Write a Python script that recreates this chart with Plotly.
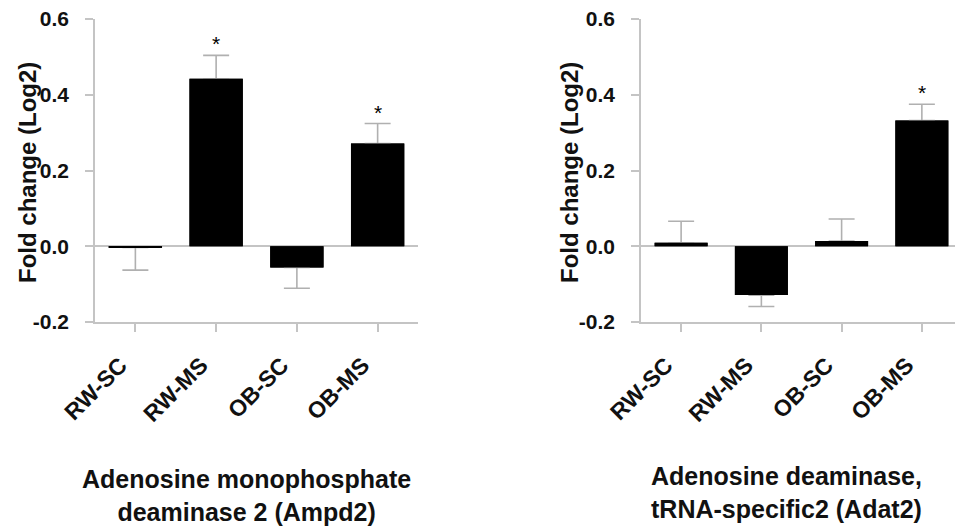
import plotly.graph_objects as go

categories = ["RW-SC", "RW-MS", "OB-SC", "OB-MS"]

ampd2_values = [-0.003, 0.442, -0.056, 0.271]
ampd2_errors = [0.060, 0.062, 0.055, 0.053]
ampd2_sig = [False, True, False, True]

adat2_values = [0.009, -0.129, 0.014, 0.332]
adat2_errors = [0.057, 0.030, 0.058, 0.043]
adat2_sig = [False, False, False, True]

y_ticks = [-0.2, 0.0, 0.2, 0.4, 0.6]
y_tick_labels = ["-0.2", "0.0", "0.2", "0.4", "0.6"]

titles = ["Adenosine monophosphate<br>deaminase 2 (Ampd2)",
          "Adenosine deaminase,<br>tRNA-specific2 (Adat2)"]
y_title = "Fold change (Log2)"

W, H = 955, 527
FONT = "Liberation Sans, Arial, sans-serif"
AXIS_GRAY = "#c4c4c4"
ERR_GRAY = "#b0b0b0"

fig = go.Figure()


def add_panel(values, errors, sig, xa, ya):
    plus = [e if v >= 0 else 0 for v, e in zip(values, errors)]
    minus = [e if v < 0 else 0 for v, e in zip(values, errors)]
    # bars carrying the (outward) error bars
    fig.add_trace(go.Bar(
        x=categories, y=values, width=0.66,
        marker=dict(color="black", line=dict(width=0)),
        error_y=dict(type="data", symmetric=False, array=plus, arrayminus=minus,
                     color=ERR_GRAY, thickness=1.6, width=13),
        xaxis=xa, yaxis=ya, showlegend=False, hoverinfo="skip",
    ))
    # same bars again on top, hiding the inner caps of the error bars
    fig.add_trace(go.Bar(
        x=categories, y=values, width=0.66,
        marker=dict(color="black", line=dict(width=0)),
        xaxis=xa, yaxis=ya, showlegend=False,
    ))
    for c, v, e, s in zip(categories, values, errors, sig):
        if s:
            fig.add_annotation(x=c, y=v + e, xref=xa, yref=ya, text="*",
                               showarrow=False, yanchor="bottom", yshift=-2,
                               font=dict(family=FONT, size=21, color="black"))


add_panel(ampd2_values, ampd2_errors, ampd2_sig, "x", "y")
add_panel(adat2_values, adat2_errors, adat2_sig, "x2", "y2")

ydom = [(H - 322) / H, (H - 19) / H]

xcommon = dict(
    showline=True, linecolor=AXIS_GRAY, linewidth=1.5,
    ticks="outside", ticklen=8, tickcolor=AXIS_GRAY, tickwidth=1.5,
    tickangle=-45, ticklabelstandoff=11, ticklabelshift=-15,
    tickfont=dict(family=FONT, size=23, color="#111", weight="bold"),
    showgrid=False, zeroline=False, automargin=False,
)
ycommon = dict(
    range=[-0.2, 0.6], domain=ydom,
    tickvals=y_ticks, ticktext=y_tick_labels,
    showline=True, linecolor=AXIS_GRAY, linewidth=1.5,
    ticks="outside", ticklen=8, tickcolor=AXIS_GRAY, tickwidth=1.5,
    ticklabelstandoff=12, automargin=False,
    tickfont=dict(family=FONT, size=21, color="#111", weight="bold"),
    showgrid=False, zeroline=True, zerolinecolor=AXIS_GRAY, zerolinewidth=1.5,
)

fig.update_layout(
    width=W, height=H, margin=dict(l=0, r=0, t=0, b=0, pad=0, autoexpand=False),
    paper_bgcolor="white", plot_bgcolor="white",
    barmode="overlay",
    xaxis=dict(xcommon, domain=[95 / W, 418 / W], range=[-0.5, 3.5], anchor="y"),
    yaxis=dict(ycommon, anchor="x"),
    xaxis2=dict(xcommon, domain=[641 / W, 1.0], range=[-0.5, 3.5 - 7 / 80.5], anchor="y2"),
    yaxis2=dict(ycommon, anchor="x2"),
)

ann_font = dict(family=FONT, size=25, color="#111", weight="bold")
fig.add_annotation(x=247 / W, y=1 - 495 / H, xref="paper", yref="paper",
                   text=titles[0], showarrow=False, font=ann_font,
                   xanchor="center", yanchor="middle")
fig.add_annotation(x=786 / W, y=1 - 492 / H, xref="paper", yref="paper",
                   text=titles[1], showarrow=False, font=ann_font,
                   xanchor="center", yanchor="middle")
for xc in (27, 569):
    fig.add_annotation(x=xc / W, y=1 - 173 / H, xref="paper", yref="paper",
                       text=y_title, textangle=-90, showarrow=False,
                       font=dict(family=FONT, size=24, color="#111", weight="bold"),
                       xanchor="center", yanchor="middle")

fig.write_html("out.html")
